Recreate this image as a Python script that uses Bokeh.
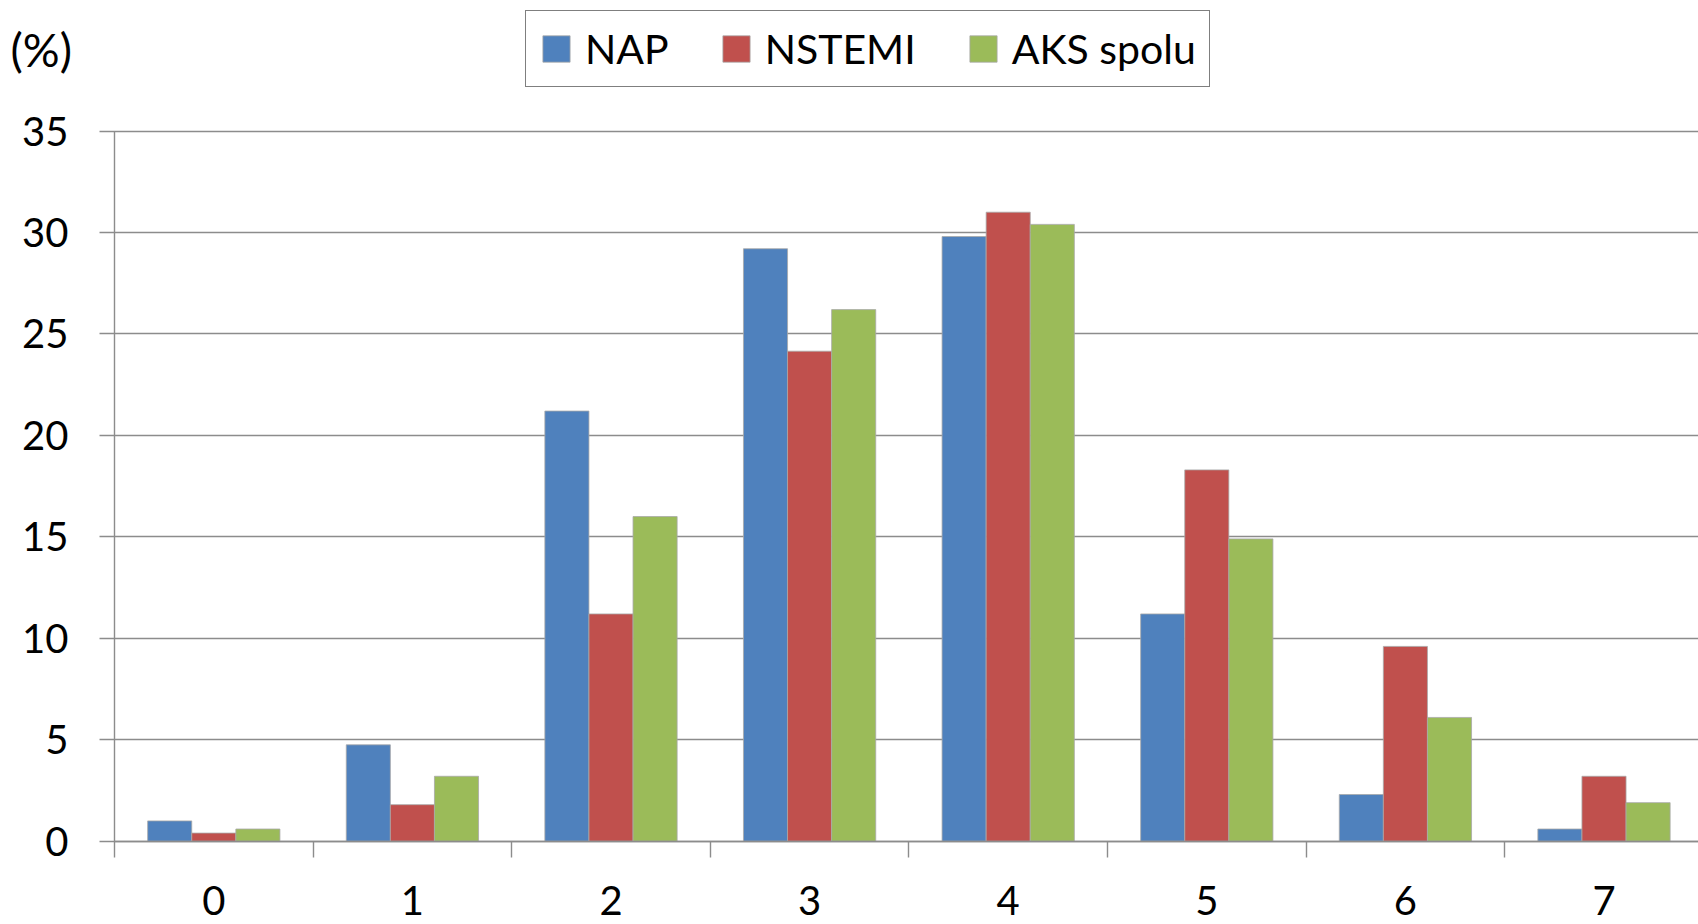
from bokeh.plotting import figure
from bokeh.models import Range1d, FixedTicker, ColumnDataSource, Legend, LegendItem, Label
from bokeh.transform import dodge
from bokeh.embed import file_html
from bokeh.resources import INLINE

categories = ["0", "1", "2", "3", "4", "5", "6", "7"]
nap = [1.0, 4.75, 21.2, 29.2, 29.8, 11.2, 2.3, 0.6]
nstemi = [0.4, 1.8, 11.2, 24.15, 31.0, 18.3, 9.6, 3.2]
aks = [0.6, 3.2, 16.0, 26.2, 30.4, 14.9, 6.1, 1.9]
series_names = ["NAP", "NSTEMI", "AKS spolu"]
y_ticks = [0, 5, 10, 15, 20, 25, 30, 35]
unit_label = "(%)"

colors = ["#4F81BD", "#C0504D", "#9BBB59"]
FONT = "Lato"
GRAY = "#8c8c8c"

# layout (pixels)
W, H = 1698, 924
AX_X = 114.0      # y axis position
AX_Y = 840.7      # x axis position (from top)
CAT_PX = 198.6    # px per category
UNIT_PX = 20.29   # px per y unit

x0 = -AX_X / CAT_PX
x1 = x0 + W / CAT_PX
y0 = -(H - AX_Y) / UNIT_PX
y1 = y0 + H / UNIT_PX

pos = [i + 0.5 for i in range(len(categories))]
boundaries = list(range(len(categories) + 1))
source = ColumnDataSource(dict(pos=pos, nap=nap, nstemi=nstemi, aks=aks))

p = figure(width=W, height=H, min_border=0,
           x_range=Range1d(x0, x1), y_range=Range1d(y0, y1),
           output_backend="svg", toolbar_location=None)
p.outline_line_color = None
p.background_fill_color = "white"
p.xgrid.visible = False
p.ygrid.visible = False

bw = 0.222
renderers = []
for off, col, c in zip([-bw, 0, bw], ["nap", "nstemi", "aks"], colors):
    r = p.vbar(x=dodge("pos", off, range=p.x_range), top=col, bottom=0, width=bw,
               source=source, fill_color=c, line_color="#a8a8a8", line_width=0.8)
    renderers.append(r)

# y axis (its inward ticks serve as the horizontal gridlines, behind the bars)
ya = p.yaxis[0]
ya.level = "underlay"
ya.fixed_location = 0
ya.bounds = (0, y_ticks[-1])
ya.ticker = FixedTicker(ticks=y_ticks)
ya.major_tick_out = 15
ya.major_tick_in = int(W - AX_X) + 2
ya.minor_tick_line_color = None
ya.axis_line_color = GRAY
ya.axis_line_width = 1.4
ya.major_tick_line_color = GRAY
ya.major_tick_line_width = 1.4
ya.major_label_standoff = 31
ya.major_label_text_font = FONT
ya.major_label_text_font_size = "40px"
ya.major_label_text_color = "black"

# x axis
xa = p.xaxis[0]
xa.fixed_location = 0
xa.bounds = (0, x1)
xa.ticker = FixedTicker(ticks=pos, minor_ticks=boundaries)
xa.major_label_overrides = {pp: c for pp, c in zip(pos, categories)}
xa.major_tick_line_color = None
xa.major_tick_out = 0
xa.major_tick_in = 0
xa.minor_tick_out = 16
xa.minor_tick_in = 0
xa.minor_tick_line_color = GRAY
xa.minor_tick_line_width = 1.4
xa.axis_line_color = GRAY
xa.axis_line_width = 1.4
xa.major_label_standoff = 29
xa.major_label_text_font = FONT
xa.major_label_text_font_size = "40px"
xa.major_label_text_line_height = 1.0
xa.major_label_text_color = "black"

legend = Legend(items=[LegendItem(label=n, renderers=[r]) for n, r in zip(series_names, renderers)],
                orientation="horizontal", location=(525, H - 87),
                padding=13, margin=0, spacing=50,
                glyph_width=34, glyph_height=33, label_standoff=12,
                label_text_font=FONT, label_text_font_size="41px", label_text_color="black",
                label_text_line_height=0.7,
                border_line_color="black", border_line_width=1.3,
                background_fill_color="white", background_fill_alpha=1.0)
p.add_layout(legend, "center")

lab = Label(x=10, y=H - 48.5, x_units="screen", y_units="screen", text=unit_label,
            text_font=FONT, text_font_size="46px", text_baseline="middle", text_color="black")
p.add_layout(lab)

open("out.html", "w").write(file_html(p, INLINE))
